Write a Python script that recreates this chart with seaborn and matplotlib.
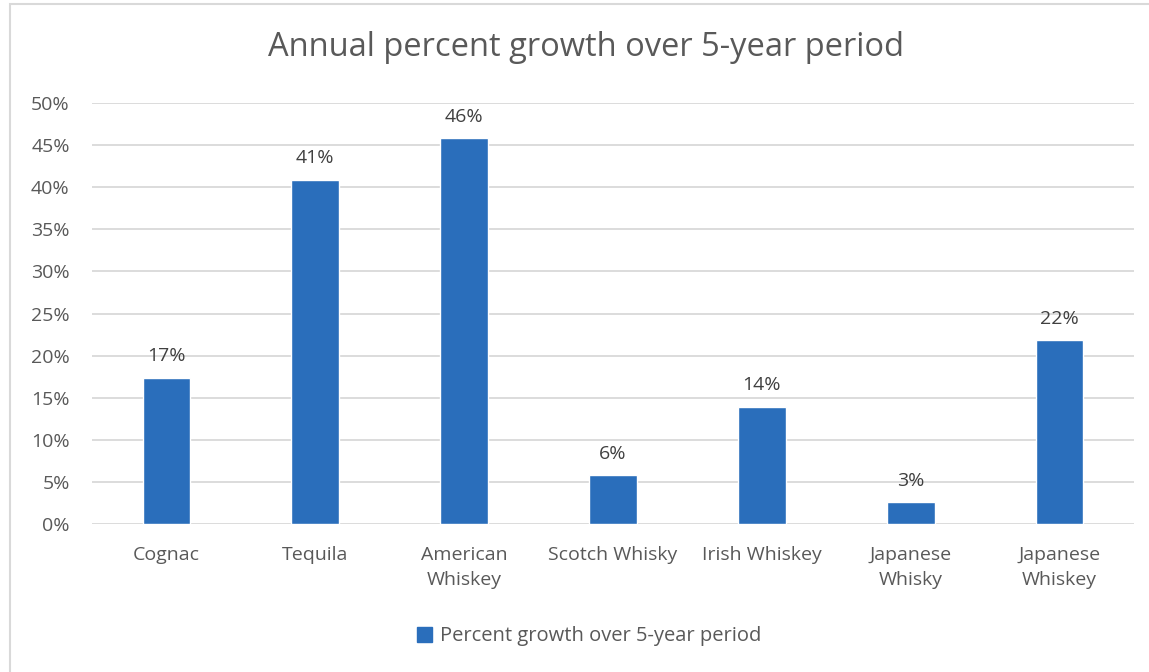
import matplotlib
matplotlib.use("Agg")
import matplotlib.pyplot as plt
import seaborn as sns
import pandas as pd
from matplotlib.patches import Rectangle, Patch
from matplotlib.ticker import PercentFormatter

categories = ["Cognac", "Tequila", "American\nWhiskey", "Scotch Whisky",
              "Irish Whiskey", "Japanese\nWhisky", "Japanese\nWhiskey"]
growth = [17.4, 40.9, 45.8, 5.8, 13.9, 2.6, 21.8]
labels = ["17%", "41%", "46%", "6%", "14%", "3%", "22%"]
series_name = "Percent growth over 5-year period"
title = "Annual percent growth over 5-year period"

sns.set_style("white")
plt.rcParams['font.family'] = ['Open Sans', 'DejaVu Sans']

blue = "#2a6ebb"
grey = "#595959"

df = pd.DataFrame({"cat": categories, "val": growth})

fig = plt.figure(figsize=(11.49, 6.72), dpi=100)
ax = fig.add_axes([0.080, 0.2202, 0.907, 0.6265])
sns.barplot(data=df, x="cat", y="val", color=blue, width=0.32, saturation=1, ax=ax)

for p, lab in zip(ax.patches, labels):
    ax.annotate(lab, (p.get_x() + p.get_width() / 2, p.get_height()),
                xytext=(0, 9), textcoords="offset points",
                ha="center", va="bottom", fontsize=14, color="#404040")

ax.set_ylim(0, 50)
ax.set_yticks(range(0, 51, 5))
ax.yaxis.set_major_formatter(PercentFormatter(decimals=0))
ax.set_xlim(-0.5, len(categories) - 0.5)
ax.grid(axis="y", color="#d9d9d9", linewidth=1.3)
ax.set_axisbelow(True)
for s in ax.spines.values():
    s.set_visible(False)
ax.set_xlabel("")
ax.set_ylabel("")
ax.tick_params(axis="both", length=0, labelsize=14, labelcolor=grey)
ax.tick_params(axis="x", pad=16)
ax.tick_params(axis="y", pad=16)
for t in ax.get_xticklabels():
    t.set_linespacing(1.5)

fig.text(0.51, 0.930, title, ha="center", va="center", fontsize=23.5, color=grey)

handle = Patch(facecolor=blue, edgecolor=blue)
fig.legend([handle], [series_name], loc="center", bbox_to_anchor=(0.513, 0.053),
           frameon=False, fontsize=14.5, labelcolor=grey, handlelength=0.75,
           handleheight=0.75, handletextpad=0.4)

fig.patches.append(Rectangle((0.009, -0.01), 1.0, 1.004, transform=fig.transFigure,
                             fill=False, edgecolor="#d9d9d9", linewidth=1.5))

fig.savefig("out.png", dpi=100)
